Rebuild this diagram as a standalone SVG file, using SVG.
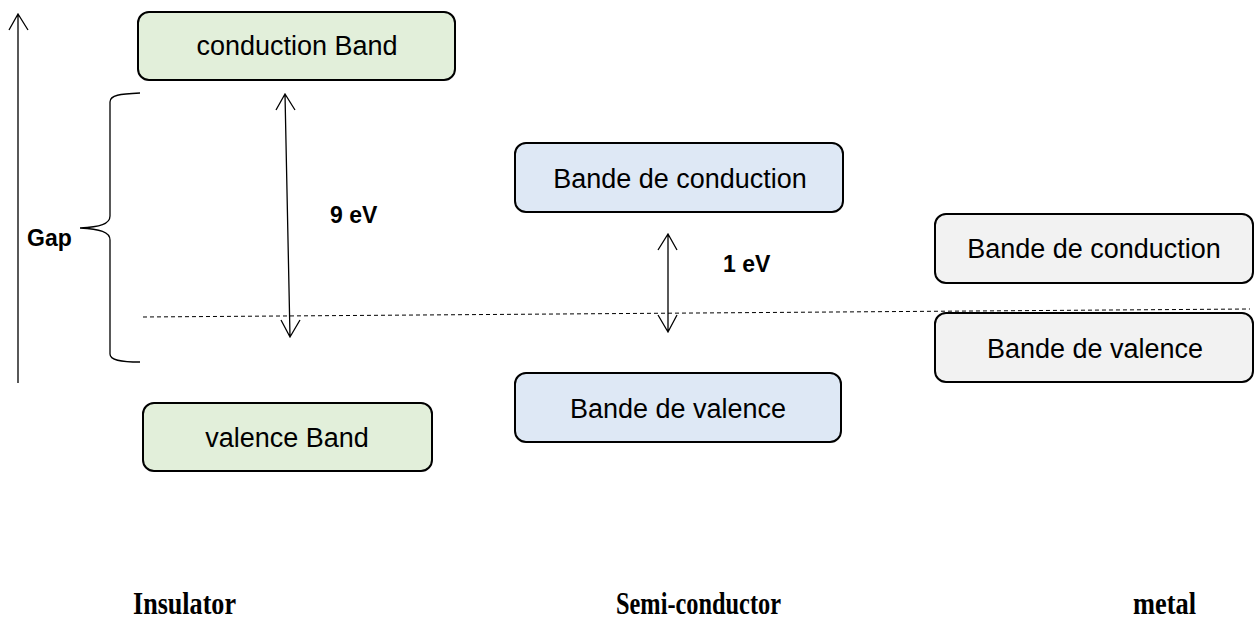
<svg xmlns="http://www.w3.org/2000/svg" width="1255" height="619" viewBox="0 0 1255 619">
<style>
.box{stroke:#000;stroke-width:2;}
.green{fill:#e2efda;}
.blue{fill:#dee8f5;}
.grey{fill:#f2f2f2;}
.t{font-family:"Liberation Sans",Arial,sans-serif;font-size:27px;fill:#000;text-anchor:middle;}
.lb{font-family:"Liberation Sans",Arial,sans-serif;font-size:23px;font-weight:bold;fill:#000;}
.cap{font-family:"Liberation Serif","Times New Roman",serif;font-size:31px;font-weight:bold;fill:#000;}
.ln{stroke:#000;stroke-width:1.3;fill:none;}
</style>
<rect width="1255" height="619" fill="#fff"/>
<g id="insulator-conduction">
<rect class="box green" x="138" y="12" width="317" height="68" rx="11"/>
<text class="t" x="297" y="55">conduction Band</text>
</g>
<g id="insulator-valence">
<rect class="box green" x="143" y="403" width="289" height="68" rx="11"/>
<text class="t" x="287" y="447">valence Band</text>
</g>
<g id="semi-conduction">
<rect class="box blue" x="515" y="143" width="328" height="69" rx="11"/>
<text class="t" x="680" y="188">Bande de conduction</text>
</g>
<g id="semi-valence">
<rect class="box blue" x="515" y="373" width="326" height="69" rx="11"/>
<text class="t" x="678" y="418">Bande de valence</text>
</g>
<g id="metal-conduction">
<rect class="box grey" x="935" y="214" width="318" height="69" rx="11"/>
<text class="t" x="1094" y="258">Bande de conduction</text>
</g>
<g id="metal-valence">
<rect class="box grey" x="935" y="313" width="318" height="69" rx="11"/>
<text class="t" x="1095" y="358">Bande de valence</text>
</g>
<g id="connectors">
<path class="ln" d="M18,383 L18,14 M9,30 L18,14 L28,30"/>
<path class="ln" d="M140,93 C120,94 110,95 110,102 L110,216 C110,224 100,227 80,228 C100,229 110,232 110,240 L110,354 C110,360 120,362 140,362"/>
<path class="ln" d="M285,94 L290,337 M276,110 L285,94 L295,110 M281,320 L290,337 L300,320"/>
<path class="ln" d="M668,234 L668,332 M658,250 L668,234 L677,250 M658,315 L668,332 L677,315"/>
<path d="M143,317 L1250,309" stroke="#000" stroke-width="1" stroke-dasharray="4,3" fill="none"/>
</g>
<g id="labels">
<text class="lb" x="27" y="246">Gap</text>
<text class="lb" x="330" y="223">9 eV</text>
<text class="lb" x="723" y="272">1 eV</text>
<text class="cap" x="133" y="614" textLength="103" lengthAdjust="spacingAndGlyphs">Insulator</text>
<text class="cap" x="616" y="614" textLength="165" lengthAdjust="spacingAndGlyphs">Semi-conductor</text>
<text class="cap" x="1133" y="614" textLength="63" lengthAdjust="spacingAndGlyphs">metal</text>
</g>
</svg>
